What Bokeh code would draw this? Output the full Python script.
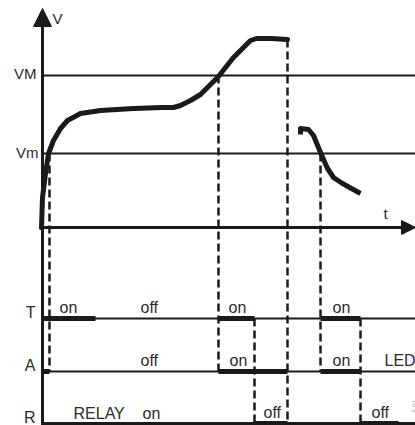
import math
from bokeh.plotting import figure
from bokeh.models import Range1d, Arrow, NormalHead
from bokeh.core.properties import value
from bokeh.embed import file_html
from bokeh.resources import INLINE

# ---- data (time units t, voltage units V) ----
curve1_t = [-1, 0, 3, 6, 11, 18, 25, 38, 58, 91, 120, 131, 138, 148, 158, 165, 171, 176, 183, 191, 201, 208, 214, 229, 245]
curve1_v = [0, 30, 54, 74, 87, 99, 107, 114, 117, 119, 120, 120, 122, 127, 133, 140, 146, 151, 160, 170, 180, 187, 189, 189, 188]
curve2_t = [258, 258, 266, 271, 278, 285, 291, 300, 318]
curve2_v = [93, 99, 98, 92, 75, 59, 50, 44, 34]

V_M = 152
V_m = 74
levels = {"T": -91, "A": -144, "R": -196}

T_on = [(0, 53), (176, 212), (278, 318)]
A_on = [(0, 7), (176, 245), (278, 318)]
R_off = [(212, 245), (318, 356)]

# dashed guides: (t, v_from, v_to)
dashed = [(7, 74, -144), (176, 152, -144), (245, 188, -196),
          (212, -91, -196), (278, 74, -144), (318, -91, -196)]

FONT = value("Liberation Sans")
INK = "#1a1a1a"
TXT = "#2a2a2a"
DY = 5  # baseline correction

p = figure(width=415, height=425, output_backend="svg", toolbar_location=None,
           x_range=Range1d(-42, 373), y_range=Range1d(-198, 227),
           x_axis_type=None, y_axis_type=None, min_border=0)
p.grid.visible = False
p.outline_line_color = None
p.background_fill_color = "white"
p.border_fill_color = "white"

XR = 380

p.segment(x0=[0, 0], y0=[V_M, V_m], x1=[XR, XR], y1=[V_M, V_m], line_color=INK, line_width=2)
for k in ("T", "A"):
    p.segment(x0=[0], y0=[levels[k]], x1=[XR], y1=[levels[k]], line_color=INK, line_width=2)
p.segment(x0=[0], y0=[levels["R"]], x1=[XR], y1=[levels["R"]], line_color=INK, line_width=3)

p.segment(x0=[d[0] for d in dashed], y0=[d[1] for d in dashed],
          x1=[d[0] for d in dashed], y1=[d[2] for d in dashed],
          line_color=INK, line_width=2.5, line_dash="8 4")

def thick(segs, lvl):
    p.segment(x0=[s[0] for s in segs], y0=[lvl] * len(segs),
              x1=[s[1] for s in segs], y1=[lvl] * len(segs),
              line_color=INK, line_width=5)

thick(T_on, levels["T"])
thick(A_on, levels["A"])
thick(R_off, levels["R"])

p.segment(x0=[0], y0=[-205], x1=[0], y1=[205], line_color=INK, line_width=3)
p.add_layout(Arrow(end=NormalHead(size=18, fill_color=INK, line_color=INK),
                   x_start=0, y_start=150, x_end=0, y_end=219,
                   line_color=INK, line_width=3))
p.segment(x0=[0], y0=[0], x1=[365], y1=[0], line_color=INK, line_width=3)
p.add_layout(Arrow(end=NormalHead(size=14, fill_color=INK, line_color=INK),
                   x_start=300, y_start=0, x_end=373, y_end=0,
                   line_color=INK, line_width=3))

p.line(curve1_t, curve1_v, line_color=INK, line_width=5, line_join="round", line_cap="round")
p.line(curve2_t, curve2_v, line_color=INK, line_width=5, line_join="round")

def txt(xs, ys, texts, align="left", size="16px", angle=0.0, color=TXT):
    p.text(x=xs, y=[y + DY for y in ys], text=texts, text_font=FONT, text_font_size=size,
           text_color=color, text_align=align, text_baseline="alphabetic", angle=angle)

txt([-6, -4], [149, 70], ["VM", "Vm"], align="right", size="15px")
txt([10, 341], [204, 9], ["V", "t"], size="15px")
txt([-7, -7, -7], [-89.7, -143, -194.7], ["T", "A", "R"], align="right", size="16px")
txt([17, 98, 186, 290], [-85, -85, -85, -85], ["on", "off", "on", "on"])
txt([98, 187, 290, 342], [-138, -138, -138, -138], ["off", "on", "on", "LED"])
txt([31, 100, 221, 329], [-191, -191, -190, -190], ["RELAY", "on", "off", "off"])
txt([371], [-190], ["E.01"], size="6px", angle=math.pi / 2, color="#9a9a9a")

open("out.html", "w").write(file_html(p, INLINE))
